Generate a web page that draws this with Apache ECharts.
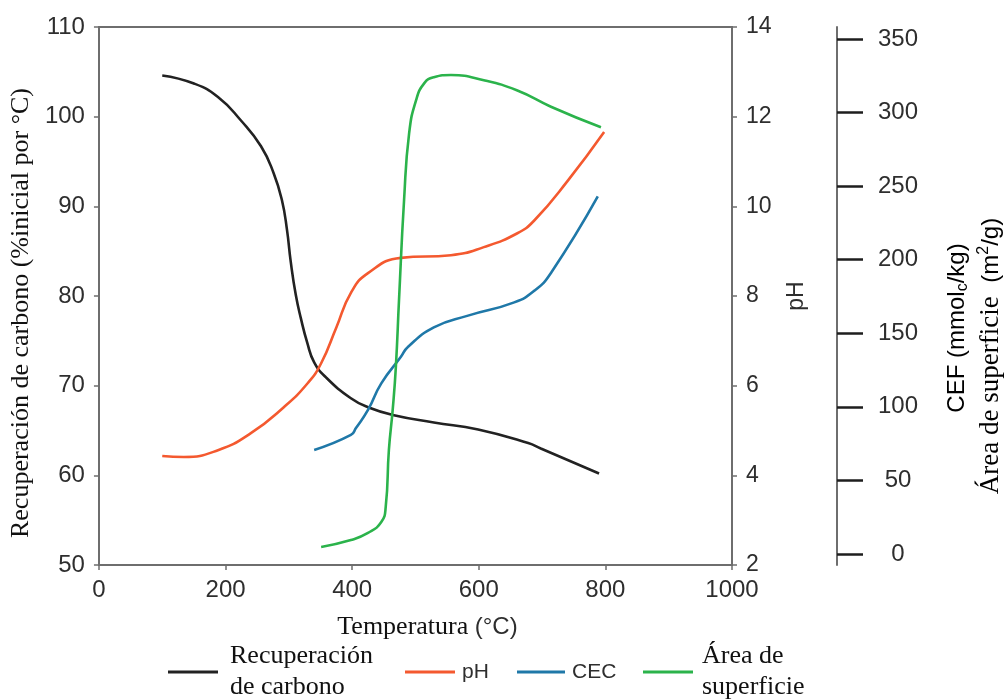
<!DOCTYPE html>
<html>
<head>
<meta charset="utf-8">
<script src="https://cdn.jsdelivr.net/npm/echarts@6/dist/echarts.min.js"></script>
<style>
  html, body { margin: 0; padding: 0; background: #fff; }
  #chart { width: 1004px; height: 700px; }
</style>
</head>
<body>
<div id="chart"></div>
<script>
// Recuperación de carbono (%), eje izquierdo
var carbonT = [100, 150, 188, 224, 256, 276, 289, 297, 303, 311, 319, 329, 340, 359, 398, 425, 466, 529, 599, 678, 698, 790];
var carbonV = [104.6, 103.7, 102.2, 99.6, 96.7, 93.7, 90.7, 87.4, 83.8, 80.1, 77.5, 74.8, 72.6, 70.9, 68.6, 67.6, 66.7, 65.9, 65.1, 63.6, 63.0, 60.2];

// pH, primer eje derecho
var phT = [100, 134, 188, 240, 292, 330, 351, 375, 398, 425, 477, 556, 608, 661, 688, 741, 798];
var phV = [4.43, 4.41, 4.56, 4.94, 5.52, 6.06, 6.5, 7.3, 8.07, 8.51, 8.85, 8.91, 9.09, 9.40, 9.69, 10.58, 11.66];

// CEC (mmolc/kg), segundo eje derecho
var cecT = [340, 398, 406, 425, 446, 477, 488, 529, 583, 656, 688, 714, 788];
var cecV = [70.7, 80.9, 85.6, 97.9, 116, 134, 140.7, 154, 162, 171, 179, 191, 243];

// Área de superficie (m2/g), segundo eje derecho
var areaT = [351, 398, 425, 446, 453, 458, 464, 469, 474, 482, 490, 501, 514, 529, 556, 608, 661, 714, 793];
var areaV = [4.8, 9.5, 14.3, 21.7, 32, 70.7, 97.9, 127, 172.6, 240.6, 286, 308.5, 320, 324, 325.5, 322, 315, 304, 290];

// ticks
var cefTicks = [0, 50, 100, 150, 200, 250, 300, 350];

function zip(a, b) {
    var out = [];
    for (var i = 0; i < a.length; i++) out.push([a[i], b[i]]);
    return out;
}

var sans = 'Liberation Sans';
var serif = 'Liberation Serif';
var axisGray = '#6e6e6e';
var labelColor = '#2e2e2e';

var myChart = echarts.init(document.getElementById('chart'), null, { renderer: 'canvas' });

function lineSeries(name, color, yIdx, data) {
    return {
        name: name,
        type: 'line',
        yAxisIndex: yIdx,
        data: data,
        smooth: 0.5,
        showSymbol: false,
        color: color,
        itemStyle: { color: color },
        lineStyle: { color: color, width: 2.6 }
    };
}

var option = {
    animation: false,
    backgroundColor: '#fff',
    grid: { left: 98, right: 272, top: 27, bottom: 135 },
    xAxis: [{
        type: 'value',
        position: 'bottom',
        min: 0, max: 1000, interval: 200,
        axisLine: { onZero: false, lineStyle: { color: axisGray, width: 2 } },
        axisTick: { show: true, length: 5, lineStyle: { color: axisGray, width: 1.5 } },
        axisLabel: { fontFamily: sans, fontSize: 24, color: labelColor, margin: 13,
            formatter: function (v) { return String(v); } },
        splitLine: { show: false },
        name: '{s|Temperatura }{a|(°C)}',
        nameLocation: 'middle',
        nameGap: 49,
        nameTextStyle: {
            padding: [0, 0, 0, 24],
            rich: {
                s: { fontFamily: serif, fontSize: 26, color: '#111' },
                a: { fontFamily: sans, fontSize: 24, color: labelColor }
            }
        }
    }, {
        type: 'value',
        position: 'top',
        min: 0, max: 1000,
        axisLine: { onZero: false, lineStyle: { color: axisGray, width: 2 } },
        axisTick: { show: false },
        axisLabel: { show: false },
        splitLine: { show: false }
    }],
    yAxis: [{
        type: 'value',
        position: 'left',
        min: 50, max: 110, interval: 10,
        axisLine: { show: true, onZero: false, lineStyle: { color: axisGray, width: 2 } },
        axisTick: { show: true, length: 5, lineStyle: { color: axisGray, width: 1.5 } },
        axisLabel: { fontFamily: sans, fontSize: 24, color: labelColor, margin: 14 },
        splitLine: { show: false },
        name: 'Recuperación de carbono (%inicial por °C)',
        nameLocation: 'middle',
        nameGap: 59,
        nameTextStyle: { fontFamily: serif, fontSize: 26, color: '#111', padding: [0, 34, 0, 0] }
    }, {
        type: 'value',
        position: 'right',
        min: 2, max: 14, interval: 2,
        axisLine: { show: true, onZero: false, lineStyle: { color: axisGray, width: 2 } },
        axisTick: { show: true, length: 5, lineStyle: { color: axisGray, width: 1.5 } },
        axisLabel: { fontFamily: sans, fontSize: 23, color: labelColor, margin: 14 },
        splitLine: { show: false },
        name: 'pH',
        nameLocation: 'middle',
        nameGap: 53,
        nameTextStyle: { fontFamily: sans, fontSize: 23, color: labelColor }
    }, {
        type: 'value',
        position: 'right',
        offset: 105,
        min: -7.476, max: 358.16,
        axisLine: { show: true, onZero: false, lineStyle: { color: axisGray, width: 2 } },
        axisTick: { show: true, length: 26, customValues: cefTicks, lineStyle: { color: '#1e1e1e', width: 2.5 } },
        axisLabel: { fontFamily: sans, fontSize: 24, color: labelColor, margin: 61, align: 'center', customValues: cefTicks },
        splitLine: { show: false }
    }],
    legend: [{
        data: ['Recuperación de carbono'],
        left: 168, top: 641, padding: 0,
        icon: 'rect', itemWidth: 50, itemHeight: 3,
        formatter: function () { return 'Recuperación\nde carbono'; },
        textStyle: { fontFamily: serif, fontSize: 26, lineHeight: 31, color: '#111', padding: [0, 0, 0, 7] }
    }, {
        data: ['pH'],
        left: 405, top: 660, padding: 0,
        icon: 'rect', itemWidth: 50, itemHeight: 3,
        textStyle: { fontFamily: sans, fontSize: 21, lineHeight: 24, color: labelColor, padding: [0, 0, 0, 2] }
    }, {
        data: ['CEC'],
        left: 517, top: 660, padding: 0,
        icon: 'rect', itemWidth: 48, itemHeight: 3,
        textStyle: { fontFamily: sans, fontSize: 21, lineHeight: 24, color: labelColor, padding: [0, 0, 0, 2] }
    }, {
        data: ['Área de superficie'],
        left: 643, top: 641, padding: 0,
        icon: 'rect', itemWidth: 50, itemHeight: 3,
        formatter: function () { return 'Área de\nsuperficie'; },
        textStyle: { fontFamily: serif, fontSize: 26, lineHeight: 31, color: '#111', padding: [0, 0, 0, 4] }
    }],
    graphic: [{
        type: 'text',
        x: 957, y: 328,
        rotation: Math.PI / 2,
        style: {
            text: '{a|CEF (mmol}{b|c}{a|/kg)}',
            align: 'center',
            verticalAlign: 'middle',
            rich: {
                a: { fontFamily: sans, fontSize: 24, color: labelColor, lineHeight: 28 },
                b: { fontFamily: sans, fontSize: 16, color: labelColor, verticalAlign: 'bottom', lineHeight: 28 }
            }
        }
    }, {
        type: 'text',
        x: 991, y: 356,
        rotation: Math.PI / 2,
        style: {
            text: '{s|Área de superficie  }{a|(m}{p|2}{a|/g)}',
            align: 'center',
            verticalAlign: 'middle',
            rich: {
                s: { fontFamily: serif, fontSize: 27, color: '#111', lineHeight: 30 },
                a: { fontFamily: sans, fontSize: 24, color: labelColor, lineHeight: 30 },
                p: { fontFamily: sans, fontSize: 16, color: labelColor, verticalAlign: 'top', lineHeight: 30 }
            }
        }
    }],
    series: [
        lineSeries('Recuperación de carbono', '#222222', 0, zip(carbonT, carbonV)),
        lineSeries('pH', '#f4592f', 1, zip(phT, phV)),
        lineSeries('CEC', '#1f78a8', 2, zip(cecT, cecV)),
        lineSeries('Área de superficie', '#2bb34b', 2, zip(areaT, areaV))
    ]
};

myChart.setOption(option);
</script>
</body>
</html>
